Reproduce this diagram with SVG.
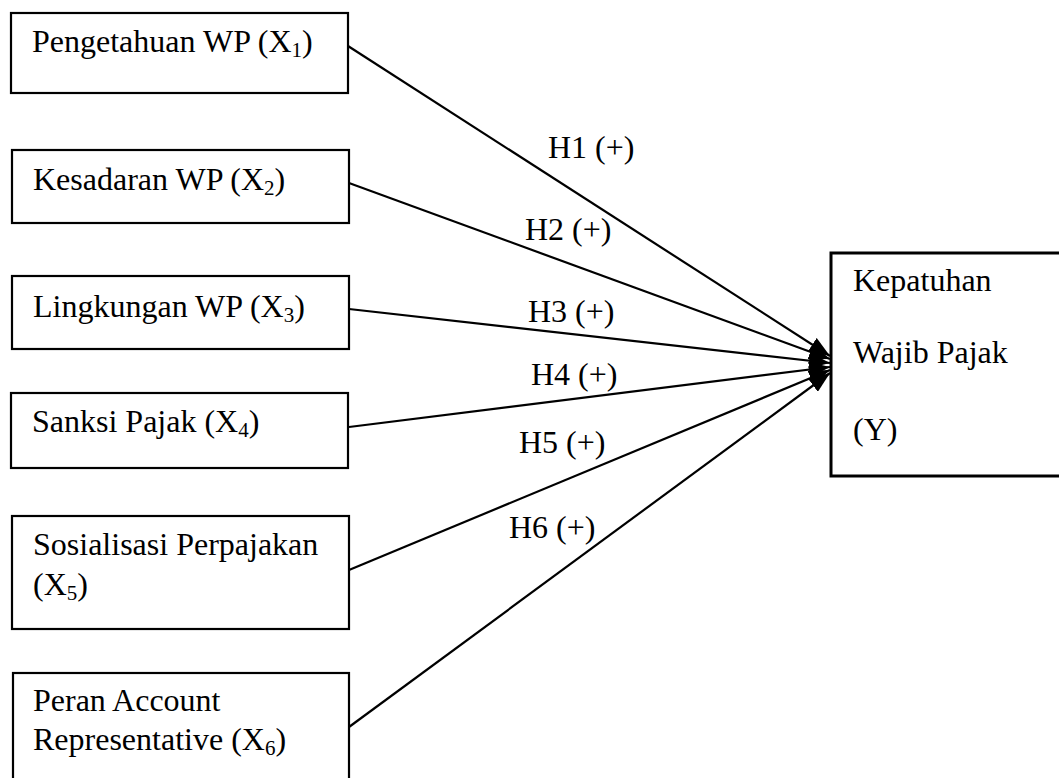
<svg xmlns="http://www.w3.org/2000/svg" width="1059" height="778" viewBox="0 0 1059 778">
<defs>
<style>
.box{fill:#fff;stroke:#000;stroke-width:2.2}
.bigbox{fill:#fff;stroke:#000;stroke-width:3}
.t{font-family:"Liberation Serif","Times New Roman",serif;font-size:32px;fill:#000}
.sub{font-size:21px}
.edge{stroke:#000;stroke-width:2.2;fill:none;marker-end:url(#arr)}
</style>
<marker id="arr" markerUnits="userSpaceOnUse" markerWidth="22" markerHeight="16" refX="21" refY="8" orient="auto">
<path d="M0,0 L21,8 L0,16 z" fill="#000"/>
</marker>
</defs>
<rect width="1059" height="778" fill="#fff"/>
<g id="connectors">
<line class="edge" x1="348" y1="46" x2="830" y2="356"/>
<line class="edge" x1="349" y1="183" x2="830" y2="359"/>
<line class="edge" x1="349" y1="309" x2="830" y2="363"/>
<line class="edge" x1="349" y1="427" x2="830" y2="367"/>
<line class="edge" x1="349" y1="570" x2="830" y2="370"/>
<line class="edge" x1="349" y1="727" x2="830" y2="373"/>
<text class="t" x="548" y="158">H1 (+)</text>
<text class="t" x="525" y="240">H2 (+)</text>
<text class="t" x="528" y="322">H3 (+)</text>
<text class="t" x="531" y="385">H4 (+)</text>
<text class="t" x="519" y="453">H5 (+)</text>
<text class="t" x="509" y="538">H6 (+)</text>
</g>
<g id="x1">
<rect class="box" x="11" y="13" width="337" height="80"/>
<text class="t" x="32" y="52">Pengetahuan WP (X<tspan class="sub" dy="5">1</tspan><tspan dy="-5">)</tspan></text>
</g>
<g id="x2">
<rect class="box" x="12" y="150" width="337" height="73"/>
<text class="t" x="33" y="190">Kesadaran WP (X<tspan class="sub" dy="5">2</tspan><tspan dy="-5">)</tspan></text>
</g>
<g id="x3">
<rect class="box" x="12" y="276" width="337" height="73"/>
<text class="t" x="33" y="317">Lingkungan WP (X<tspan class="sub" dy="5">3</tspan><tspan dy="-5">)</tspan></text>
</g>
<g id="x4">
<rect class="box" x="11" y="393" width="337" height="75"/>
<text class="t" x="32" y="432">Sanksi Pajak (X<tspan class="sub" dy="5">4</tspan><tspan dy="-5">)</tspan></text>
</g>
<g id="x5">
<rect class="box" x="12" y="516" width="337" height="113"/>
<text class="t" x="33" y="555">Sosialisasi Perpajakan</text>
<text class="t" x="33" y="595">(X<tspan class="sub" dy="5">5</tspan><tspan dy="-5">)</tspan></text>
</g>
<g id="x6">
<rect class="box" x="13" y="673" width="336" height="130"/>
<text class="t" x="33" y="711">Peran Account</text>
<text class="t" x="33" y="750">Representative (X<tspan class="sub" dy="5">6</tspan><tspan dy="-5">)</tspan></text>
</g>
<g id="y">
<rect class="bigbox" x="831" y="253" width="240" height="223"/>
<text class="t" x="853" y="291">Kepatuhan</text>
<text class="t" x="853" y="363">Wajib Pajak</text>
<text class="t" x="853" y="440">(Y)</text>
</g>
</svg>
